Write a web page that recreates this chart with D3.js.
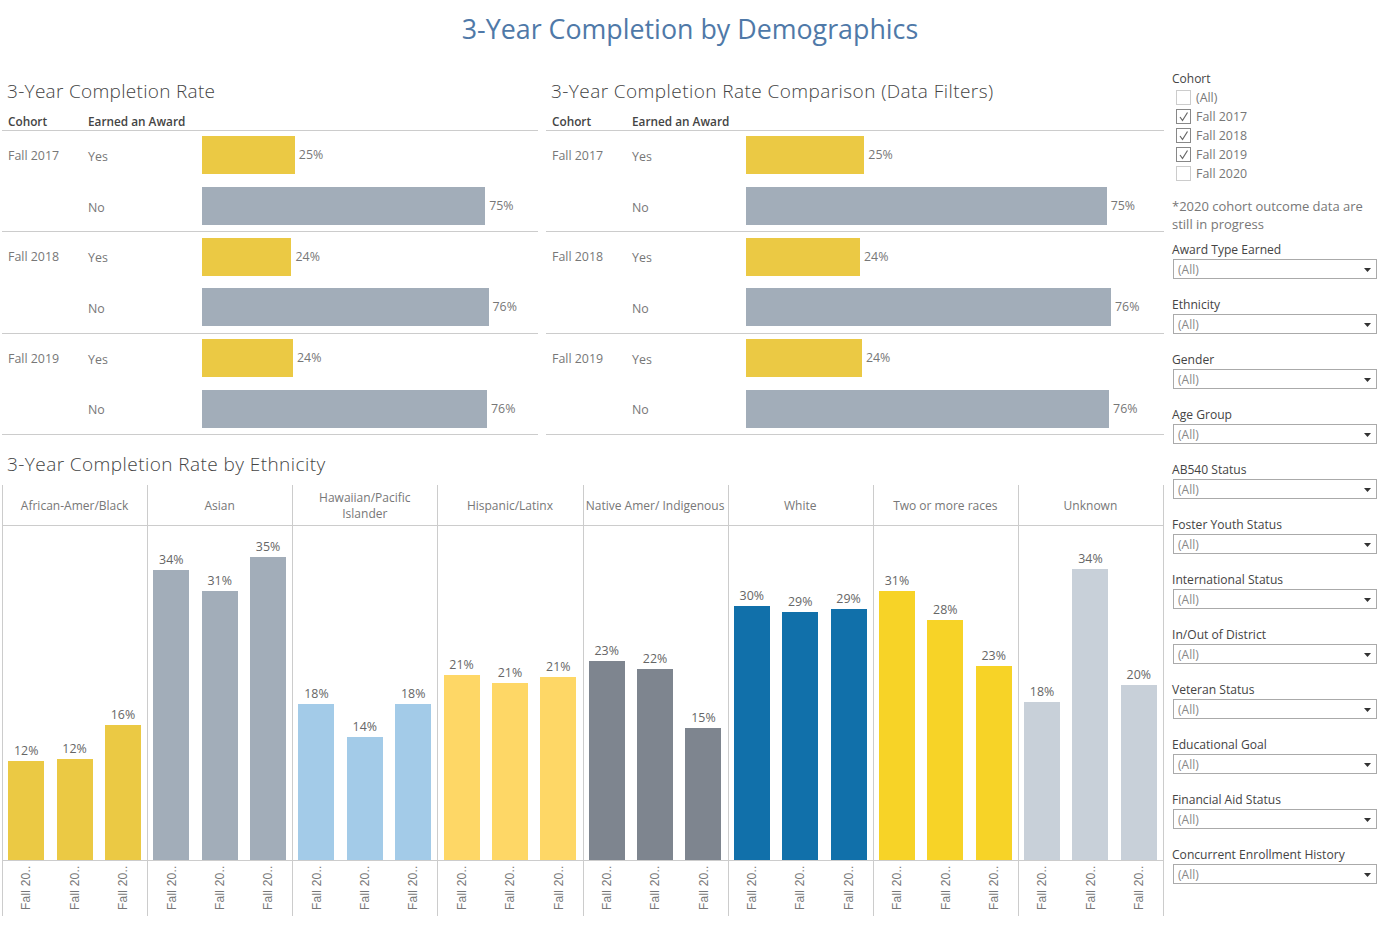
<!DOCTYPE html>
<html lang="en">
<head>
<meta charset="UTF-8">
<title>3-Year Completion by Demographics</title>
<script src="https://d3js.org/d3.v7.min.js"></script>
<style>
  html, body { margin: 0; padding: 0; background: #fff; }
  svg { display: block; }
  text { font-family: "Open Sans", sans-serif; }
  rect { shape-rendering: crispEdges; }
  .axis-x text { font-family: "Liberation Sans", sans-serif; font-size: 12px; fill: #777; letter-spacing: .2px; }
  .axis-x path, .axis-x line { display: none; }
</style>
</head>
<body>
<svg width="1387" height="931"></svg>
<script>
// completion rate panels
const cohorts = ['Fall 2017', 'Fall 2018', 'Fall 2019'];
const awardLabels = ['Yes', 'No'];
const rateYes = [24.7, 23.8, 24.2];
const rateNo = [75.3, 76.2, 75.8];

// ethnicity panel
const ethnicities = ['African-Amer/Black', 'Asian', 'Hawaiian/Pacific|Islander', 'Hispanic/Latinx',
  'Native Amer/ Indigenous', 'White', 'Two or more races', 'Unknown'];
const ethnicityRates = [
  [11.51, 11.74, 15.7],
  [33.7, 31.28, 35.23],
  [18.14, 14.3, 18.14],
  [21.49, 20.58, 21.28],
  [23.14, 22.2, 15.35],
  [29.53, 28.84, 29.19],
  [31.28, 27.9, 22.56],
  [18.37, 33.84, 20.35]
];
const ethnicityColors = ['#ebc944', '#a2adb9', '#a3cbe8', '#fed766', '#7e858f', '#1170aa', '#f7d327', '#c8d0d9'];

// filters
const cohortOptions = ['(All)', 'Fall 2017', 'Fall 2018', 'Fall 2019', 'Fall 2020'];
const cohortChecked = [false, true, true, true, false];
const filterNames = ['Award Type Earned', 'Ethnicity', 'Gender', 'Age Group', 'AB540 Status', 'Foster Youth Status',
  'International Status', 'In/Out of District', 'Veteran Status', 'Educational Goal', 'Financial Aid Status',
  'Concurrent Enrollment History'];

const LINE = '#cccccc', YELLOW = '#ebc944', GREY = '#a2adb9';
const pct = d => Math.round(d) + '%';
const svg = d3.select('svg');

svg.append('text').attr('x', 690).attr('y', 39).attr('text-anchor', 'middle')
  .attr('font-size', 26.8).attr('fill', '#4f79a8').text('3-Year Completion by Demographics');

function sectionTitle(x, y, str, spacing) {
  svg.append('text').attr('x', x).attr('y', y).attr('font-size', 19).attr('font-weight', 300)
    .attr('letter-spacing', spacing).attr('fill', '#444').text(str);
}

function ratePanel(left, right, barStart, pxPerUnit, title, spacing) {
  const g = svg.append('g');
  sectionTitle(left + 5, 98, title, spacing);
  g.append('text').attr('x', left + 6).attr('y', 126).attr('font-size', 11.8).attr('font-weight', 600).attr('fill', '#444').text('Cohort');
  g.append('text').attr('x', left + 86).attr('y', 126).attr('font-size', 11.8).attr('font-weight', 600).attr('fill', '#444').text('Earned an Award');

  const rows = [];
  cohorts.forEach((c, i) => {
    rows.push({ cohort: c, award: awardLabels[0], value: rateYes[i], color: YELLOW, first: true });
    rows.push({ cohort: c, award: awardLabels[1], value: rateNo[i], color: GREY, first: false });
  });

  const x = d3.scaleLinear().domain([0, 100]).range([barStart, barStart + pxPerUnit * 100]);
  const y = d3.scaleBand().domain(d3.range(rows.length)).range([130, 434]).paddingInner(0.25).paddingOuter(0.125);

  [130.5, 231.5, 333.5, 434.5].forEach(ly => {
    g.append('line').attr('x1', left).attr('x2', right).attr('y1', ly).attr('y2', ly).attr('stroke', LINE);
  });

  const row = g.selectAll('.row').data(rows).enter().append('g').attr('class', 'row');
  row.append('rect')
    .attr('x', x(0))
    .attr('y', (d, i) => y(i))
    .attr('width', d => x(d.value) - x(0))
    .attr('height', y.bandwidth())
    .attr('fill', d => d.color);
  row.append('text')
    .attr('x', d => x(d.value) + 4)
    .attr('y', (d, i) => y(i) + y.bandwidth() / 2 + 4)
    .attr('font-size', 12.4).attr('fill', '#777')
    .text(d => pct(d.value));
  row.append('text')
    .attr('x', left + 86)
    .attr('y', (d, i) => y(i) + y.bandwidth() / 2 + 5.5)
    .attr('font-size', 12.4).attr('fill', '#777')
    .text(d => d.award);
  row.filter(d => d.first).append('text')
    .attr('x', left + 6)
    .attr('y', (d, i) => y(i * 2) + y.bandwidth() / 2 + 4.5)
    .attr('font-size', 12.4).attr('fill', '#777')
    .text(d => d.cohort);
}

ratePanel(2, 538, 202, 3.76, '3-Year Completion Rate', 0.3);
ratePanel(546, 1164, 746, 4.79, '3-Year Completion Rate Comparison (Data Filters)', 0.43);

// ethnicity small multiples
function ethnicityPanel() {
  sectionTitle(7, 471, '3-Year Completion Rate by Ethnicity', 0.43);
  const g = svg.append('g');
  const panels = d3.scaleBand().domain(ethnicities).range([2, 1163]);
  const y = d3.scaleLinear().domain([0, 38.8]).range([860, 526]);

  [525.5, 860.5].forEach(ly => {
    g.append('line').attr('x1', 2).attr('x2', 1164).attr('y1', ly).attr('y2', ly).attr('stroke', LINE);
  });
  d3.range(ethnicities.length + 1).forEach(i => {
    const lx = Math.floor(2.5 + panels.bandwidth() * i) + 0.5;
    g.append('line').attr('x1', lx).attr('x2', lx).attr('y1', 485).attr('y2', 916).attr('stroke', LINE);
  });

  ethnicities.forEach((name, i) => {
    const p = g.append('g');
    const left = panels(name);
    const x = d3.scaleBand().domain(cohorts).range([left, left + panels.bandwidth()]).paddingInner(0.256).paddingOuter(0.128);
    const lines = name.split('|');
    lines.forEach((t, k) => {
      p.append('text')
        .attr('x', left + panels.bandwidth() / 2)
        .attr('y', lines.length > 1 ? 502 + k * 16 : 510)
        .attr('text-anchor', 'middle').attr('font-size', 12).attr('fill', '#777')
        .text(t);
    });
    const rates = ethnicityRates[i];
    p.selectAll('rect').data(cohorts).enter().append('rect')
      .attr('x', d => x(d))
      .attr('y', (d, j) => y(rates[j]))
      .attr('width', x.bandwidth())
      .attr('height', (d, j) => y(0) - y(rates[j]))
      .attr('fill', ethnicityColors[i]);
    p.selectAll('.val').data(cohorts).enter().append('text').attr('class', 'val')
      .attr('x', d => x(d) + x.bandwidth() / 2)
      .attr('y', (d, j) => y(rates[j]) - 6)
      .attr('text-anchor', 'middle').attr('font-size', 12.4).attr('fill', '#666')
      .text((d, j) => pct(rates[j]));
    const axis = p.append('g').attr('class', 'axis-x')
      .attr('transform', 'translate(0,860)')
      .call(d3.axisBottom(x).tickSize(0).tickFormat(d => d.slice(0, 7) + '..'));
    axis.selectAll('text')
      .attr('text-anchor', 'start')
      .attr('transform', 'translate(0,50) rotate(-90)')
      .attr('x', 0).attr('y', 0).attr('dy', '.35em');
  });
}
ethnicityPanel();

// filter column
function filters() {
  const g = svg.append('g');
  const labelX = 1172;
  g.append('text').attr('x', labelX).attr('y', 83).attr('font-size', 12).attr('fill', '#444').text('Cohort');
  const y = d3.scalePoint().domain(cohortOptions).range([97.5, 173.5]);
  cohortOptions.forEach((o, i) => {
    const cy = y(o);
    g.append('rect').attr('x', 1176.5).attr('y', cy - 7).attr('width', 14).attr('height', 14)
      .attr('fill', '#fff').attr('stroke', cohortChecked[i] ? '#888' : '#ccc');
    if (cohortChecked[i]) {
      g.append('path').attr('d', `M1180 ${cy + 0.5} l2.5 3.5 l5 -8`).attr('fill', 'none').attr('stroke', '#666').attr('stroke-width', 1.2);
    }
    g.append('text').attr('x', 1196).attr('y', cy + 4.5).attr('font-size', 12.4).attr('fill', '#777').text(o);
  });
  g.append('text').attr('x', labelX).attr('y', 211).attr('font-size', 13).attr('fill', '#777').text('*2020 cohort outcome data are');
  g.append('text').attr('x', labelX).attr('y', 229).attr('font-size', 13).attr('fill', '#777').text('still in progress');

  filterNames.forEach((name, i) => {
    const top = 260 + i * 55;
    g.append('text').attr('x', labelX).attr('y', top - 6).attr('font-size', 12.1).attr('fill', '#444').text(name);
    g.append('rect').attr('x', 1173.5).attr('y', top - 0.5).attr('width', 203).attr('height', 19)
      .attr('fill', '#fff').attr('stroke', '#aaa');
    g.append('text').attr('x', 1178).attr('y', top + 13.5).attr('font-size', 12).attr('fill', '#888').text('(All)');
    g.append('path').attr('d', `M1364 ${top + 8} h7 l-3.5 4 z`).attr('fill', '#333');
  });
}
filters();
</script>
</body>
</html>
